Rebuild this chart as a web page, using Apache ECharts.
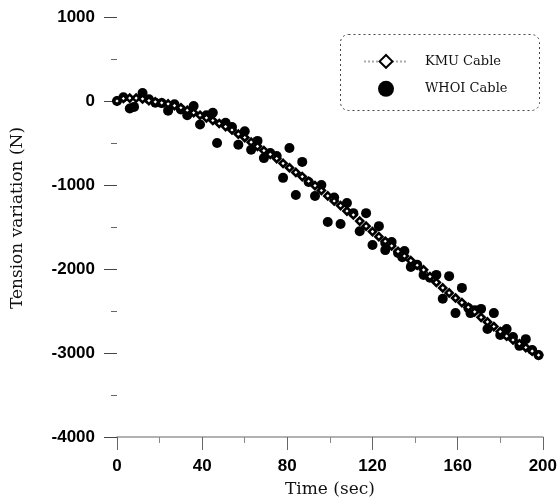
<!DOCTYPE html>
<html>
<head>
<meta charset="utf-8">
<script src="https://cdn.jsdelivr.net/npm/echarts@6/dist/echarts.min.js"></script>
<style>html,body{margin:0;padding:0;background:#fff;}#c{width:560px;height:504px;}</style>
</head>
<body>
<div id="c"></div>
<script>
const kmuTime = [0,3,6,9,12,15,18,21,24,27,30,33,36,39,42,45,48,51,54,57,60,63,66,69,72,75,78,81,84,87,90,93,96,99,102,105,108,111,114,117,120,123,126,129,132,135,138,141,144,147,150,153,156,159,162,165,168,171,174,177,180,183,186,189,192,195,198];
const kmuTension = [0,30,35,35,25,5,-10,-22,-35,-55,-80,-110,-140,-170,-200,-232,-268,-305,-345,-395,-435,-490,-540,-590,-635,-685,-742,-795,-850,-900,-955,-1008,-1065,-1130,-1190,-1245,-1310,-1355,-1430,-1490,-1555,-1615,-1670,-1725,-1790,-1845,-1900,-1955,-2010,-2090,-2160,-2225,-2285,-2345,-2400,-2455,-2510,-2575,-2630,-2685,-2745,-2800,-2845,-2890,-2935,-2978,-3025];
const whoiTime = [0,3,6,8,12,15,18,21,24,27,30,33,36,39,42,45,47,51,54,57,60,63,66,69,72,75,78,81,84,87,90,93,96,99,102,105,108,111,114,117,120,123,126,126,129,132,134,135,138,141,144,147,150,153,156,159,162,165,166,168,171,174,177,180,181,183,186,189,192,195,198];
const whoiTension = [0,45,-90,-70,95,20,-20,-25,-115,-40,-100,-170,-60,-280,-170,-140,-500,-260,-310,-520,-360,-580,-475,-680,-620,-655,-915,-560,-1120,-725,-965,-1130,-1000,-1440,-1150,-1465,-1215,-1335,-1550,-1335,-1715,-1490,-1690,-1775,-1680,-1810,-1860,-1785,-1975,-1950,-2070,-2105,-2070,-2355,-2085,-2525,-2225,-2465,-2525,-2490,-2475,-2715,-2525,-2785,-2750,-2715,-2810,-2915,-2835,-2965,-3025];
const xTicks = [0,40,80,120,160,200];
const yTicks = [-4000,-3000,-2000,-1000,0,1000];

const chart = echarts.init(document.getElementById('c'));
const serif = 'DejaVu Serif';
chart.setOption({
  animation: false,
  backgroundColor: '#fff',
  grid: {left: 117, right: 17, top: 17, bottom: 67},
  graphic: [
    {
      type: 'rect', left: 338, top: 32, z: 10,
      shape: {width: 199, height: 76, r: 8},
      style: {fill: 'none', stroke: '#444', lineWidth: 1, lineDash: [2, 3]}
    },
    {
      type: 'text', x: 18, y: 218, rotation: Math.PI / 2, z: 10,
      style: {text: 'Tension variation (N)', font: '17px "DejaVu Serif"', fill: '#111',
        align: 'center', verticalAlign: 'middle'}
    }
  ],
  legend: {
    orient: 'vertical', left: 358, top: 49, itemGap: 12,
    itemWidth: 44, itemHeight: 16,
    textStyle: {fontFamily: serif, fontSize: 13, color: '#111', padding: [0, 0, 0, 12]},
    data: ['KMU Cable', 'WHOI Cable']
  },
  xAxis: {
    type: 'value', min: 0, max: 200, interval: 40,
    axisLine: {show: true, onZero: false, lineStyle: {color: '#999', width: 1.5}},
    axisTick: {show: true, length: 13, lineStyle: {color: '#666'}},
    minorTick: {show: true, splitNumber: 2, length: 6, lineStyle: {color: '#888'}},
    splitLine: {show: false},
    axisLabel: {margin: 21, fontFamily: 'Liberation Sans', fontWeight: 'bold', fontSize: 17, color: '#000',
      formatter: v => xTicks.includes(v) ? String(v) : ''},
    name: 'Time (sec)', nameLocation: 'middle', nameGap: 44,
    nameTextStyle: {fontFamily: serif, fontSize: 17, color: '#111'}
  },
  yAxis: {
    type: 'value', min: -4000, max: 1000, interval: 1000,
    axisLine: {show: false},
    axisTick: {show: true, length: 13, lineStyle: {color: '#444'}},
    minorTick: {show: true, splitNumber: 2, length: 6, lineStyle: {color: '#666'}},
    splitLine: {show: false},
    axisLabel: {margin: 22, fontFamily: 'Liberation Sans', fontWeight: 'bold', fontSize: 17, color: '#000',
      formatter: v => yTicks.includes(v) ? String(v) : ''}
  },
  series: [
    {
      name: 'KMU Cable', type: 'line', symbol: 'diamond', symbolSize: 7, showSymbol: true, z: 3,
      lineStyle: {color: '#aaa', width: 1, type: 'dotted'},
      itemStyle: {color: '#fff', borderColor: '#000', borderWidth: 2.6, opacity: 1},
      data: kmuTime.map((t, i) => [t, kmuTension[i]])
    },
    {
      name: 'WHOI Cable', type: 'scatter', symbol: 'circle', symbolSize: 10, z: 2,
      itemStyle: {color: '#000', opacity: 1},
      data: whoiTime.map((t, i) => [t, whoiTension[i]])
    }
  ]
});
</script>
</body>
</html>
